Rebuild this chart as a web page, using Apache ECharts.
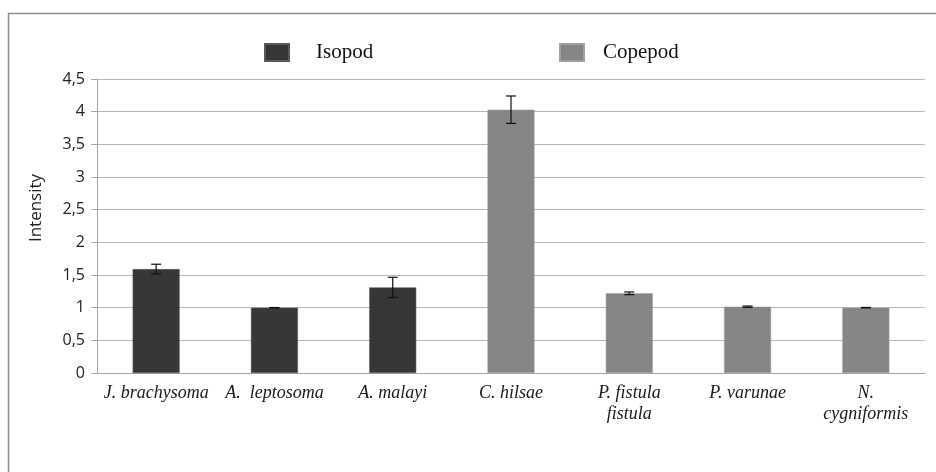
<!DOCTYPE html>
<html><head><meta charset="utf-8">
<script src="https://cdn.jsdelivr.net/npm/echarts@6/dist/echarts.min.js"></script>
<style>html,body{margin:0;padding:0;background:#fff}#c{width:936px;height:472px}</style>
</head><body><div id="c"></div>
<script>
var categories = ['J. brachysoma', 'A.  leptosoma', 'A. malayi', 'C. hilsae', 'P. fistula\nfistula', 'P. varunae', 'N.\ncygniformis'];
var isopod = [1.59, 1.0, 1.31, null, null, null, null];
var copepod = [null, null, null, 4.03, 1.22, 1.015, 1.0];
var errors = [0.075, 0.002, 0.155, 0.21, 0.02, 0.01, 0.003];
var yTicks = [0, 0.5, 1, 1.5, 2, 2.5, 3, 3.5, 4, 4.5];
var yTitle = 'Intensity';

var values = categories.map(function (c, i) { return isopod[i] != null ? isopod[i] : copepod[i]; });
var errData = values.map(function (v, i) { return [i, v - errors[i], v + errors[i]]; });

var chart = echarts.init(document.getElementById('c'));
chart.setOption({
  animation: false,
  backgroundColor: '#fff',
  graphic: [{
    type: 'polyline', silent: true,
    shape: { points: [[8.5, 472], [8.5, 13.5], [936, 13.5]] },
    style: { stroke: '#8c8c8c', lineWidth: 1.5, fill: null }
  }, {
    type: 'text', silent: true, x: 36, y: 208, rotation: Math.PI / 2,
    style: { text: yTitle, fontFamily: 'Open Sans', fontSize: 17, fill: '#222', align: 'center', verticalAlign: 'middle' }
  }],
  legend: [{
    data: ['Isopod'], left: 264, top: 42, padding: 0, itemWidth: 24, itemHeight: 17, icon: 'rect',
    textStyle: { fontFamily: 'Liberation Serif', fontSize: 21, color: '#111', padding: [0, 0, 0, 22] }
  }, {
    data: ['Copepod'], left: 559, top: 42, padding: 0, itemWidth: 24, itemHeight: 17, icon: 'rect',
    textStyle: { fontFamily: 'Liberation Serif', fontSize: 21, color: '#111', padding: [0, 0, 0, 14] }
  }],
  grid: { left: 97, right: 11, top: 79, bottom: 99 },
  xAxis: {
    type: 'category', data: categories,
    axisLine: { lineStyle: { color: '#a6a6a6', width: 1 } },
    axisTick: { length: 6, lineStyle: { color: '#a6a6a6' } },
    axisLabel: { interval: 0, margin: 10, fontFamily: 'Liberation Serif', fontStyle: 'italic', fontSize: 18, color: '#1a1a1a', lineHeight: 21 }
  },
  yAxis: {
    type: 'value', min: 0, max: 4.5, interval: 0.5,
    axisLine: { show: true, lineStyle: { color: '#a6a6a6' } },
    axisTick: { show: true, length: 6, lineStyle: { color: '#a6a6a6' } },
    splitLine: { lineStyle: { color: '#b8b8b8', width: 1 } },
    axisLabel: {
      margin: 12, fontFamily: 'Open Sans', fontSize: 16, color: '#222',
      formatter: function (v) { return yTicks.indexOf(v) >= 0 ? String(v).replace('.', ',') : ''; }
    }
  },
  series: [{
    name: 'Isopod', type: 'bar', stack: 's', data: isopod, barWidth: 47,
    itemStyle: { color: '#363636', borderColor: '#5a5a5a', borderWidth: 0.5 }
  }, {
    name: 'Copepod', type: 'bar', stack: 's', data: copepod, barWidth: 47,
    itemStyle: { color: '#858585', borderColor: '#a0a0a0', borderWidth: 0.5 }
  }, {
    type: 'custom', silent: true, z: 10,
    data: errData,
    renderItem: function (params, api) {
      var x = api.value(0);
      var lo = api.coord([x, api.value(1)]);
      var hi = api.coord([x, api.value(2)]);
      var w = 5;
      var st = { stroke: '#111', lineWidth: 1.2 };
      return { type: 'group', children: [
        { type: 'line', shape: { x1: hi[0], y1: hi[1], x2: lo[0], y2: lo[1] }, style: st },
        { type: 'line', shape: { x1: hi[0] - w, y1: hi[1], x2: hi[0] + w, y2: hi[1] }, style: st },
        { type: 'line', shape: { x1: lo[0] - w, y1: lo[1], x2: lo[0] + w, y2: lo[1] }, style: st }
      ] };
    }
  }]
});
</script></body></html>
